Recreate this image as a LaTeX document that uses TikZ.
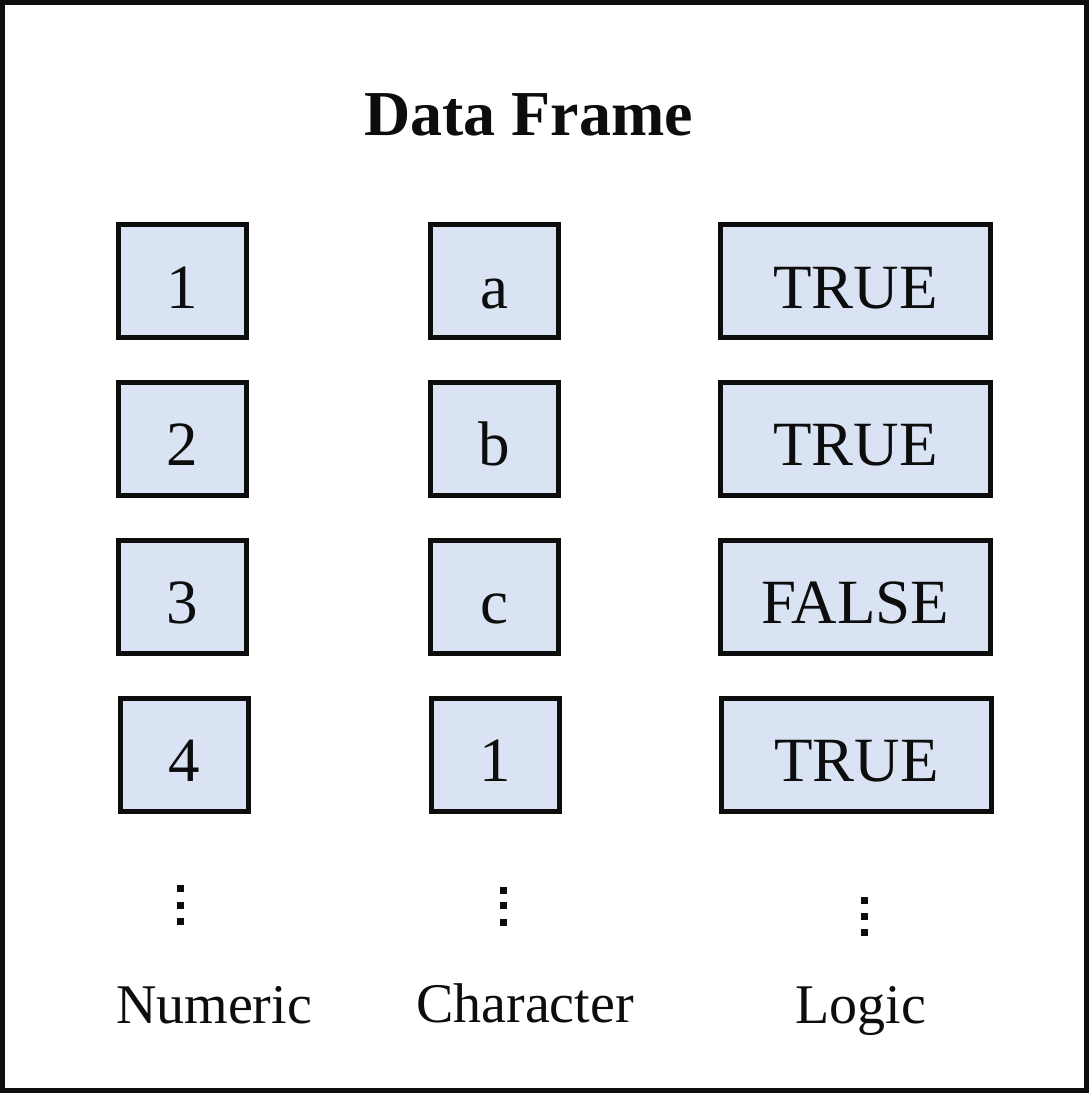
\documentclass[tikz,border=0pt]{standalone}
\usepackage{fontspec}
\setmainfont{Liberation Serif}
\definecolor{cellfill}{HTML}{DAE3F3}
\definecolor{ink}{HTML}{0D0D0D}
\begin{document}
\begin{tikzpicture}[x=1pt,y=-1pt,
  cell/.style={draw=ink,line width=5pt,fill=cellfill,rectangle,inner sep=0pt,
    minimum height=113pt,text height=54pt,text depth=0pt,
    font=\fontsize{63}{63}\selectfont,text=ink},
  narrow/.style={cell,minimum width=128pt},
  wide/.style={cell,minimum width=270pt},
  vdot/.style={fill=ink,rectangle,inner sep=0pt,minimum size=7pt},
  lab/.style={anchor=base,inner sep=0pt,font=\fontsize{56}{56}\selectfont,text=ink},
  ttl/.style={anchor=base,inner sep=0pt,font=\fontsize{64}{64}\selectfont\bfseries,text=ink}]
\useasboundingbox (0,0) rectangle (1089,1093);
\draw[ink,line width=5pt] (2.5,2.5) rectangle (1086.5,1090.5);
\node[ttl] (title) at (528.5,135) {Data Frame};
% numeric column
\node[narrow] (n1) at (182.5,281) {1};
\node[narrow] (n2) at (182.5,438.5) {2};
\node[narrow] (n3) at (182.5,596.5) {3};
\node[narrow] (n4) at (184,754.5) {4};
% character column
\node[narrow] (c1) at (494,281) {a};
\node[narrow] (c2) at (494,438.5) {b};
\node[narrow] (c3) at (494,596.5) {c};
\node[narrow] (c4) at (495.5,754.5) {1};
% logic column
\node[wide] (l1) at (855.5,281) {TRUE};
\node[wide] (l2) at (855.5,438.5) {TRUE};
\node[wide] (l3) at (855.5,596.5) {FALSE};
\node[wide] (l4) at (856.5,754.5) {TRUE};
% vertical ellipses
\node[vdot] (nd1) at (180,888.5) {};
\node[vdot] (nd2) at (180,905) {};
\node[vdot] (nd3) at (180,921.5) {};
\node[vdot] (cd1) at (503,890) {};
\node[vdot] (cd2) at (503,905.5) {};
\node[vdot] (cd3) at (503,922.5) {};
\node[vdot] (ld1) at (864.5,900) {};
\node[vdot] (ld2) at (864.5,916) {};
\node[vdot] (ld3) at (864.5,932.5) {};
% labels
\node[lab] (ln) at (214,1023) {Numeric};
\node[lab] (lc) at (525,1022) {Character};
\node[lab] (ll) at (861,1023) {Logic};
\end{tikzpicture}
\end{document}
